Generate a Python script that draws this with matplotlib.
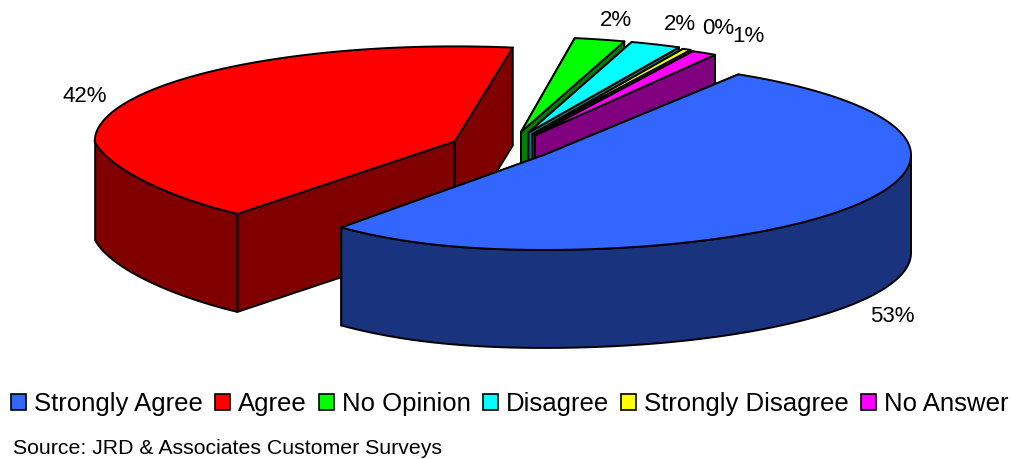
# -*- coding: utf-8 -*-
#%% importing modules
import numpy as np
import matplotlib
matplotlib.use('Agg')
import matplotlib.pyplot as plt
from matplotlib.patches import Polygon, Patch

plt.rcParams['font.family'] = ['Liberation Sans', 'DejaVu Sans']

#%% survey results
categories = ['Strongly Agree', 'Agree', 'No Opinion', 'Disagree',
              'Strongly Disagree', 'No Answer']
shares = [52.6, 41.6, 2.4, 2.4, 0.4, 1.2]
top_colors = ['#3366FF', '#FF0000', '#00FF00', '#00FFFF', '#FFFF00', '#FF00FF']
side_colors = ['#19337F', '#800000', '#008000', '#008080', '#808000', '#800080']
source_note = 'Source: JRD & Associates Customer Surveys'

#%% pie geometry, in pixels
cx, cy = 502, 147
ry = 95
depth = 98
explode = 52
start_angle = 32
# per slice: right radius, left radius, squeeze of the near left quarter, x and y nudge
rx_right = [367, 367, 340, 340, 340, 340]
rx_left = [360, 360, 340, 340, 340, 340]
squeeze = [0.13, 0.066, 0, 0, 0, 0]
nudge_x = [0, 0, 7, 7, 7, 7]
nudge_y = [0, 0, -2, -2, -1, 0]
label_xy = [(892, 317), (85, 96), (616, 20), (680, 25), (718, 29), (748, 36)]
draw_order = [1, 2, 3, 4, 5, 0]


def rim(t, x0, y0, i):
    t = np.asarray(t) % (2 * np.pi)
    dx = np.where(np.sin(t) < 0, rx_left[i], rx_right[i]) * np.sin(t)
    near_left = (t > np.pi) & (t < 1.5 * np.pi)
    dx = np.where(near_left, dx * (1 - squeeze[i] * np.sin(2 * (t - np.pi))), dx)
    return x0 + dx, y0 - ry * np.cos(t)


fig = plt.figure(figsize=(10.11, 4.59), dpi=100)
ax = fig.add_axes([0, 0, 1, 1])
ax.set_xlim(0, 1011)
ax.set_ylim(459, 0)
ax.axis('off')

#%% slices, back ones first
fractions = np.array(shares) / np.sum(shares)
edges = start_angle + 360 * np.concatenate([[0], np.cumsum(fractions)])

for i in draw_order:
    t0, t1 = np.radians(edges[i]), np.radians(edges[i + 1])
    mid = (t0 + t1) / 2
    x0 = cx + explode * np.sin(mid) + nudge_x[i]
    y0 = cy - explode * ry / 367 * np.cos(mid) + nudge_y[i]
    t = np.linspace(t0, t1, 300)
    xs, ys = rim(t, x0, y0, i)
    style = dict(edgecolor='black', linewidth=1.4, joinstyle='round')

    # flat cut faces
    for a in (t0, t1):
        xa, ya = rim(a, x0, y0, i)
        ax.add_patch(Polygon([(x0, y0), (xa, ya), (xa, ya + depth), (x0, y0 + depth)],
                             facecolor=side_colors[i], **style))

    # outer wall, only the part that faces the viewer
    front = np.cos(t) <= 0
    if front.any():
        fx, fy = xs[front], ys[front]
        wall = np.column_stack([np.r_[fx, fx[::-1]], np.r_[fy, fy[::-1] + depth]])
        ax.add_patch(Polygon(wall, facecolor=side_colors[i], **style))

    # top face
    top = np.column_stack([np.r_[x0, xs], np.r_[y0, ys]])
    ax.add_patch(Polygon(top, facecolor=top_colors[i], **style))

#%% percent labels
for v, (lx, ly) in zip(shares, label_xy):
    ax.text(lx, ly, f'{v:.0f}%', fontsize=16, ha='center', va='center', color='black')

#%% legend and source line
handles = [Patch(facecolor=c, edgecolor='black', linewidth=1.2) for c in top_colors]
ax.legend(handles, categories, ncol=6, loc='center left', frameon=False,
          bbox_to_anchor=(11 / 1011, 1 - 404 / 459), fontsize=18.55, handlelength=0.58,
          handleheight=0.58, handletextpad=0.31, columnspacing=0.47,
          borderpad=0, borderaxespad=0)
ax.text(13, 448, source_note, fontsize=15.35, ha='left', va='center', color='black')

fig.savefig('out.png', dpi=100)
